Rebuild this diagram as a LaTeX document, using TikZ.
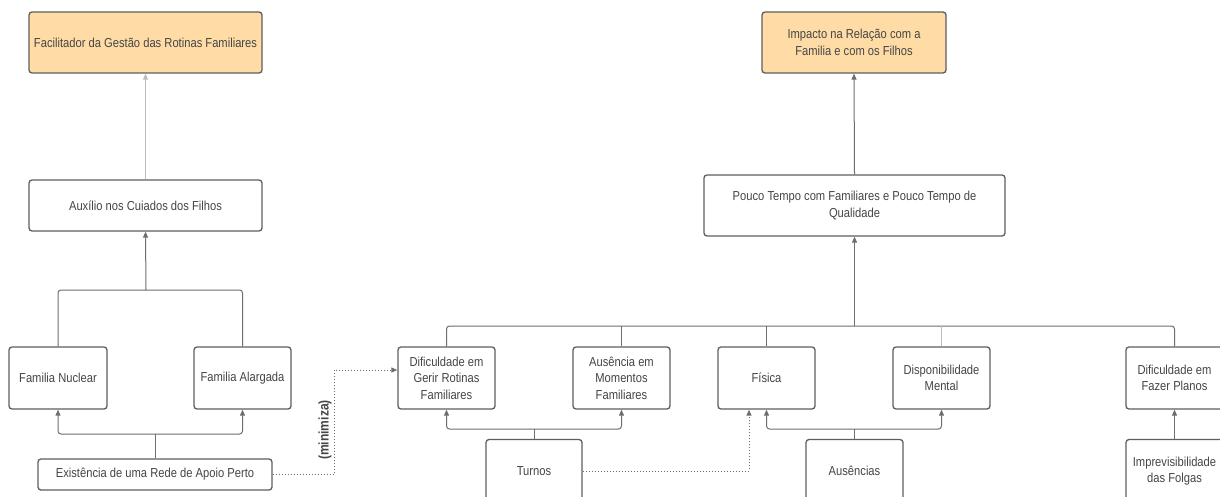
\documentclass[tikz,border=0pt]{standalone}
\usepackage{fontspec}
\setmainfont[FakeStretch=0.86]{Liberation Sans}
\usetikzlibrary{arrows.meta}
\definecolor{boxline}{HTML}{5E5E5E}
\definecolor{txt}{HTML}{454545}
\definecolor{conn}{HTML}{6E6E6E}
\definecolor{connlight}{HTML}{BDBDBD}
\definecolor{goal}{HTML}{FFDBA6}
\begin{document}
\begin{tikzpicture}[x=1pt,y=-1pt,
  box/.style={draw=boxline,line width=1.3pt,rounded corners=3pt,fill=white,
    text=txt,align=center,font=\fontsize{13}{16.5}\selectfont,inner sep=1pt},
  goalbox/.style={box,fill=goal},
  tip/.style={-{Triangle[length=6pt,width=5pt]}},
  link/.style={draw=conn,line width=1pt,rounded corners=3pt},
  lightlink/.style={draw=connlight,line width=1pt,rounded corners=3pt},
  dotlink/.style={draw=conn,line width=1pt,dotted}]
\clip (0,0) rectangle (1220,497);
\fill[white] (0,0) rectangle (1220,497);

% left column
\node[goalbox,minimum width=233pt,minimum height=61pt] (fac) at (145.5,42.5)
  {Facilitador da Gestão das Rotinas Familiares};
\node[box,minimum width=233pt,minimum height=51pt] (aux) at (145.5,205.5)
  {Auxílio nos Cuiados dos Filhos};
\node[box,minimum width=98pt,minimum height=62pt] (nuc) at (58,378) {Familia Nuclear};
\node[box,minimum width=97pt,minimum height=62pt] (ala) at (242.5,378) {Familia Alargada};
\node[box,minimum width=234pt,minimum height=31pt] (rede) at (155,474.5)
  {Existência de uma Rede de Apoio Perto};

% right column
\node[goalbox,minimum width=184pt,minimum height=61pt] (imp) at (854,42.5)
  {Impacto na Relação com a\\Familia e com os Filhos};
\node[box,minimum width=301pt,minimum height=61pt] (pouco) at (854.5,205.5)
  {Pouco Tempo com Familiares e Pouco Tempo de\\Qualidade};
\node[box,minimum width=97pt,minimum height=62pt] (rot) at (446.5,378)
  {Dificuldade em\\Gerir Rotinas\\Familiares};
\node[box,minimum width=97pt,minimum height=62pt] (aus) at (621.5,378)
  {Ausência em\\Momentos\\Familiares};
\node[box,minimum width=97pt,minimum height=62pt] (fis) at (766.5,378) {Física};
\node[box,minimum width=97pt,minimum height=62pt] (ment) at (941.5,378)
  {Disponibilidade\\Mental};
\node[box,minimum width=97pt,minimum height=62pt] (plan) at (1174.5,378)
  {Dificuldade em\\Fazer Planos};
\node[box,minimum width=96pt,minimum height=63pt] (tur) at (534,471) {Turnos};
\node[box,minimum width=97pt,minimum height=63pt] (ausc) at (854.5,471) {Ausências};
\node[box,minimum width=97pt,minimum height=63pt] (impr) at (1174.5,471)
  {Imprevisibilidade\\das Folgas};

% junction points of the branching connectors
\coordinate (jfam) at (146,290);
\coordinate (jrede) at (155,434);
\coordinate (jbus) at (854.5,326);
\coordinate (jtur) at (534,429);
\coordinate (jausc) at (854.5,429);

% left connectors
\draw[lightlink,tip] (aux.north) -- (fac.south);
\draw[link] (nuc.north) |- (jfam) -| (ala.north);
\draw[link,tip] (jfam) -- (aux.south);
\draw[link] (rede.north) -- (jrede);
\draw[link,tip] (jrede) -| (nuc.south);
\draw[link,tip] (jrede) -| (ala.south);

% right connectors
\draw[link,tip] (pouco.north) -- (imp.south);
\draw[link] (rot.north) |- (jbus) -| (plan.north);
\draw[link] (aus.north) -- (aus.north |- jbus);
\draw[link] (fis.north) -- (fis.north |- jbus);
\draw[lightlink] (ment.north) -- (ment.north |- jbus);
\draw[link,tip] (jbus) -- (pouco.south);
\draw[link] (tur.north) -- (jtur);
\draw[link,tip] (jtur) -| (rot.south);
\draw[link,tip] (jtur) -| (aus.south);
\draw[link] (ausc.north) -- (jausc);
\draw[link,tip] (jausc) -| (fis.south);
\draw[link,tip] (jausc) -| (ment.south);
\draw[link,tip] (impr.north) -- (plan.south);

% dotted influences
\coordinate (mtop) at (334.5,370);
\draw[dotlink,tip] (rede.east) -| (mtop) -- (rot.west |- mtop);
\node[rotate=90,text=txt,font=\fontsize{14}{14}\selectfont\bfseries] (minlab) at (325,430) {(minimiza)};
\coordinate (tfis) at (749,471);
\draw[dotlink,tip] (tur.east) -| (fis.south -| tfis);
\end{tikzpicture}
\end{document}
